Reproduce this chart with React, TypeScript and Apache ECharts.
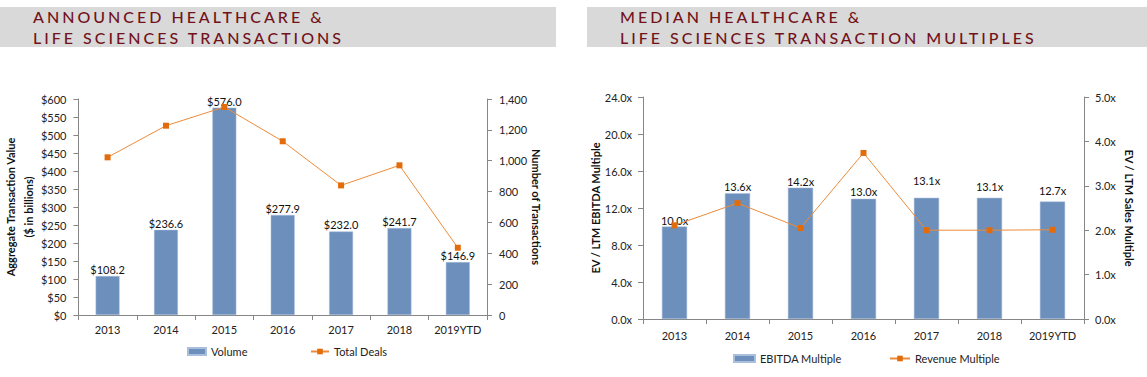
import React, { useEffect, useRef } from "react";
import * as echarts from "echarts";

const years = ["2013", "2014", "2015", "2016", "2017", "2018", "2019YTD"];
const volume = [108.2, 236.6, 576.0, 277.9, 232.0, 241.7, 146.9];
const totalDeals = [1022, 1227, 1348, 1126, 840, 970, 436];
const ebitdaMultiple = [10.0, 13.6, 14.2, 13.0, 13.1, 13.1, 12.7];
const revenueMultiple = [2.11, 2.61, 2.05, 3.74, 2.0, 2.0, 2.01];

const leftTitle = ["ANNOUNCED HEALTHCARE &", "LIFE SCIENCES TRANSACTIONS"];
const rightTitle = ["MEDIAN HEALTHCARE &", "LIFE SCIENCES TRANSACTION MULTIPLES"];

const FONT = "Lato";
const BAR = "#6d8fbb";
const LINE = "#ec8b3a";
const MARK = "#e36c0a";
const AXIS = "#868686";
const TITLE_RED = "#72121a";

export default function App() {
  const ref = useRef<HTMLDivElement>(null);

  useEffect(() => {
    if (!ref.current) return;
    const chart = echarts.init(ref.current, undefined, { renderer: "svg" });

    const axisLineStyle = { lineStyle: { color: AXIS, width: 1 } };
    const tickStyle = { show: true, length: 5, lineStyle: { color: AXIS } };
    const lbl = { fontFamily: FONT, fontSize: 11, color: "#222" };
    const nameStyle = { fontFamily: FONT, fontSize: 11, fontWeight: "bold" as const, color: "#111" };

    const ebitdaLabelDist = [1, 1, 1, 2, 12, 6, 6];

    chart.setOption({
      animation: false,
      textStyle: { fontFamily: FONT },
      graphic: [
        { type: "rect", shape: { x: 0, y: 7, width: 556, height: 40 }, style: { fill: "#d9d9d9" }, silent: true },
        { type: "rect", shape: { x: 587, y: 7, width: 560, height: 40 }, style: { fill: "#d9d9d9" }, silent: true },
      ],
      grid: [
        { left: 77, top: 99, width: 410, height: 216 },
        { left: 643, top: 97, width: 441, height: 222 },
      ],
      legend: [
        { data: ["Volume"], left: 182, top: 341, itemWidth: 18, itemHeight: 7, itemGap: 2, textStyle: lbl, icon: "rect" },
        { data: ["Total Deals"], left: 305, top: 341, itemWidth: 18, itemHeight: 7, textStyle: lbl },
        { data: ["EBITDA Multiple"], left: 728, top: 348, itemWidth: 21, itemHeight: 7, textStyle: lbl, icon: "rect" },
        { data: ["Revenue Multiple"], left: 884, top: 348, itemWidth: 20, itemHeight: 7, textStyle: lbl },
      ],
      xAxis: [
        {
          type: "category", data: years, gridIndex: 0,
          axisLine: axisLineStyle, axisTick: tickStyle,
          axisLabel: { ...lbl, margin: 9, interval: 0 },
        },
        {
          type: "category", data: years, gridIndex: 1,
          axisLine: axisLineStyle, axisTick: tickStyle,
          axisLabel: { ...lbl, margin: 11, interval: 0 },
        },
      ],
      yAxis: [
        {
          type: "value", gridIndex: 0, min: 0, max: 600, interval: 50,
          axisLine: { show: true, ...axisLineStyle }, axisTick: tickStyle, splitLine: { show: false },
          axisLabel: { ...lbl, margin: 12, formatter: (v: number) => "$" + v },
          name: "Aggregate Transaction Value\n($ in billions)", nameLocation: "middle", nameGap: 39,
          nameTextStyle: { ...nameStyle, lineHeight: 18 },
        },
        {
          type: "value", gridIndex: 0, min: 0, max: 1400, interval: 200, position: "right",
          axisLine: { show: true, ...axisLineStyle }, axisTick: tickStyle, splitLine: { show: false },
          axisLabel: { ...lbl, margin: 12, formatter: (v: number) => v.toLocaleString("en-US") },
          name: "Number of Transactions", nameLocation: "middle", nameGap: 41, nameRotate: -90,
          nameTextStyle: nameStyle,
        },
        {
          type: "value", gridIndex: 1, min: 0, max: 24, interval: 4,
          axisLine: { show: true, ...axisLineStyle }, axisTick: tickStyle, splitLine: { show: false },
          axisLabel: { ...lbl, margin: 11, formatter: (v: number) => v.toFixed(1) + "x" },
          name: "EV / LTM EBITDA Multiple", nameLocation: "middle", nameGap: 39,
          nameTextStyle: nameStyle,
        },
        {
          type: "value", gridIndex: 1, min: 0, max: 5, interval: 1, position: "right",
          axisLine: { show: true, ...axisLineStyle }, axisTick: tickStyle, splitLine: { show: false },
          axisLabel: { ...lbl, margin: 11, formatter: (v: number) => v.toFixed(1) + "x" },
          name: "EV / LTM Sales Multiple", nameLocation: "middle", nameGap: 40, nameRotate: -90,
          nameTextStyle: nameStyle,
        },
      ],
      series: [
        {
          name: "Volume", type: "bar", xAxisIndex: 0, yAxisIndex: 0, data: volume,
          barWidth: "41%",
          itemStyle: { color: BAR, borderColor: "#a9bfdc", borderWidth: 0.5 },
          label: {
            show: true, position: "top", distance: 1, fontFamily: FONT, fontSize: 11, color: "#111",
            formatter: (p: any) => "$" + p.value.toFixed(1),
          },
        },
        {
          name: "Total Deals", type: "line", xAxisIndex: 0, yAxisIndex: 1, data: totalDeals,
          symbol: "rect", symbolSize: 6,
          lineStyle: { color: LINE, width: 1 }, itemStyle: { color: MARK },
        },
        {
          name: "EBITDA Multiple", type: "bar", xAxisIndex: 1, yAxisIndex: 2,
          data: ebitdaMultiple.map((v, i) => ({ value: v, label: { distance: ebitdaLabelDist[i] } })),
          barWidth: "40%",
          itemStyle: { color: BAR, borderColor: "#a9bfdc", borderWidth: 0.5 },
          label: {
            show: true, position: "top", fontFamily: FONT, fontSize: 11, color: "#111",
            formatter: (p: any) => p.value.toFixed(1) + "x",
          },
        },
        {
          name: "Revenue Multiple", type: "line", xAxisIndex: 1, yAxisIndex: 3, data: revenueMultiple,
          symbol: "rect", symbolSize: 6,
          lineStyle: { color: LINE, width: 1 }, itemStyle: { color: MARK },
        },
      ],
    });

    return () => chart.dispose();
  }, []);

  const titleStyle = (left: number): React.CSSProperties => ({
    position: "absolute",
    left,
    top: 7,
    fontFamily: FONT,
    fontSize: 16,
    fontWeight: 500,
    lineHeight: "20.5px",
    letterSpacing: "3px",
    color: TITLE_RED,
    whiteSpace: "nowrap",
    pointerEvents: "none",
  });

  return (
    <div style={{ position: "absolute", left: 0, top: 0, width: 1147, height: 377, background: "#fff" }}>
      <div ref={ref} style={{ position: "absolute", left: 0, top: 0, width: 1147, height: 377 }} />
      <div style={titleStyle(33)}>
        {leftTitle.map((t) => (
          <div key={t}>{t}</div>
        ))}
      </div>
      <div style={titleStyle(620)}>
        {rightTitle.map((t) => (
          <div key={t}>{t}</div>
        ))}
      </div>
    </div>
  );
}
